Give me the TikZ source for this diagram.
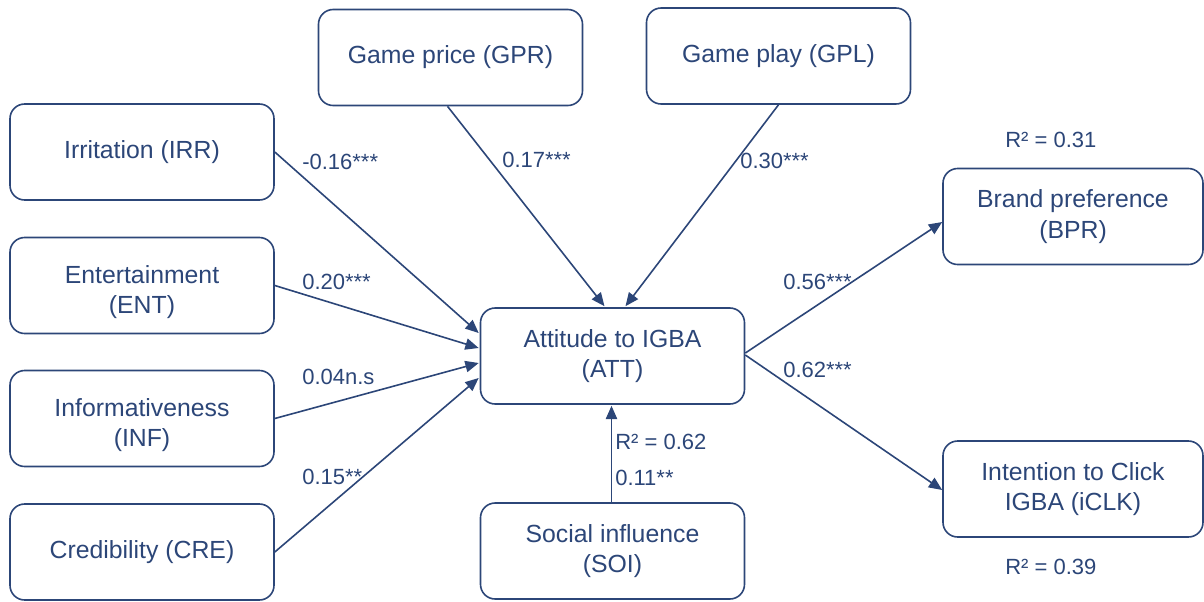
\documentclass[tikz,border=0pt]{standalone}
\usepackage{fontspec}
\setmainfont{Liberation Sans}
\usetikzlibrary{arrows.meta,calc}
\definecolor{navy}{RGB}{44,70,120}
\begin{document}
\begin{tikzpicture}[x=0.75pt,y=-0.75pt,
  txt/.style={align=center,text=navy,font=\fontsize{18.6}{23}\selectfont,inner sep=2pt},
  box/.style={txt,draw=navy,line width=1.2pt,rounded corners=11pt,minimum width=198pt,minimum height=72pt},
  lab/.style={text=navy,font=\fontsize{16.5}{20}\selectfont,inner sep=0pt,anchor=west},
  conn/.style={draw=navy,line width=1.2pt,-{Triangle[length=10pt,width=8.5pt]}}]
\useasboundingbox (0,0) rectangle (1204,601);
\node[box] (IRR) at (142,152) {Irritation (IRR)};
\node[box,label={[txt,yshift=-5pt]center:{Entertainment\\(ENT)}}] (ENT) at (142,285.5) {};
\node[box,label={[txt,yshift=-5pt]center:{Informativeness\\(INF)}}] (INF) at (142,418.5) {};
\node[box] (CRE) at (142,552) {Credibility (CRE)};
\node[box] (GPR) at (450.5,57.5) {Game price (GPR)};
\node[box] (GPL) at (778.5,56) {Game play (GPL)};
\node[box] (ATT) at (612.5,356) {Attitude to IGBA\\(ATT)};
\node[box] (SOI) at (612.5,551) {Social influence\\(SOI)};
\node[box,minimum width=195pt] (BPR) at (1073,216.5) {Brand preference\\(BPR)};
\node[box,minimum width=195pt] (CLK) at (1073,489) {Intention to Click\\IGBA (iCLK)};
\draw[conn] (IRR.east) -- ($(ATT.west)+(-1,-23)$);
\draw[conn] (ENT.east) -- ($(ATT.west)+(-1,-8)$);
\draw[conn] (INF.east) -- ($(ATT.west)+(-1,7)$);
\draw[conn] (CRE.east) -- ($(ATT.west)+(-1,22)$);
\draw[conn] ($(GPR.south)+(-3,0)$) -- ($(ATT.north)+(-8,-1)$);
\draw[conn] (GPL.south) -- ($(ATT.north)+(13,-1)$);
\draw[conn] ($(SOI.north)+(-1,0)$) -- ($(ATT.south)+(-1,1)$);
\draw[conn] ($(ATT.east)+(0,-3)$) -- ($(BPR.west)+(0,5.5)$);
\draw[conn] ($(ATT.east)+(0,-1)$) -- ($(CLK.west)+(0,1)$);
\node[lab] (l1) at (302,162) {-0.16***};
\node[lab] (l2) at (502,160) {0.17***};
\node[lab] (l3) at (740,161) {0.30***};
\node[lab] (l4) at (302,282) {0.20***};
\node[lab] (l5) at (302,377) {0.04n.s};
\node[lab] (l6) at (302,477) {0.15**};
\node[lab] (l7) at (783,282) {0.56***};
\node[lab] (l8) at (783,370) {0.62***};
\node[lab] (l9) at (615,442) {R² = 0.62};
\node[lab] (l10) at (615,478) {0.11**};
\node[lab] (l11) at (1005,140) {R² = 0.31};
\node[lab] (l12) at (1005,567) {R² = 0.39};
\end{tikzpicture}
\end{document}
